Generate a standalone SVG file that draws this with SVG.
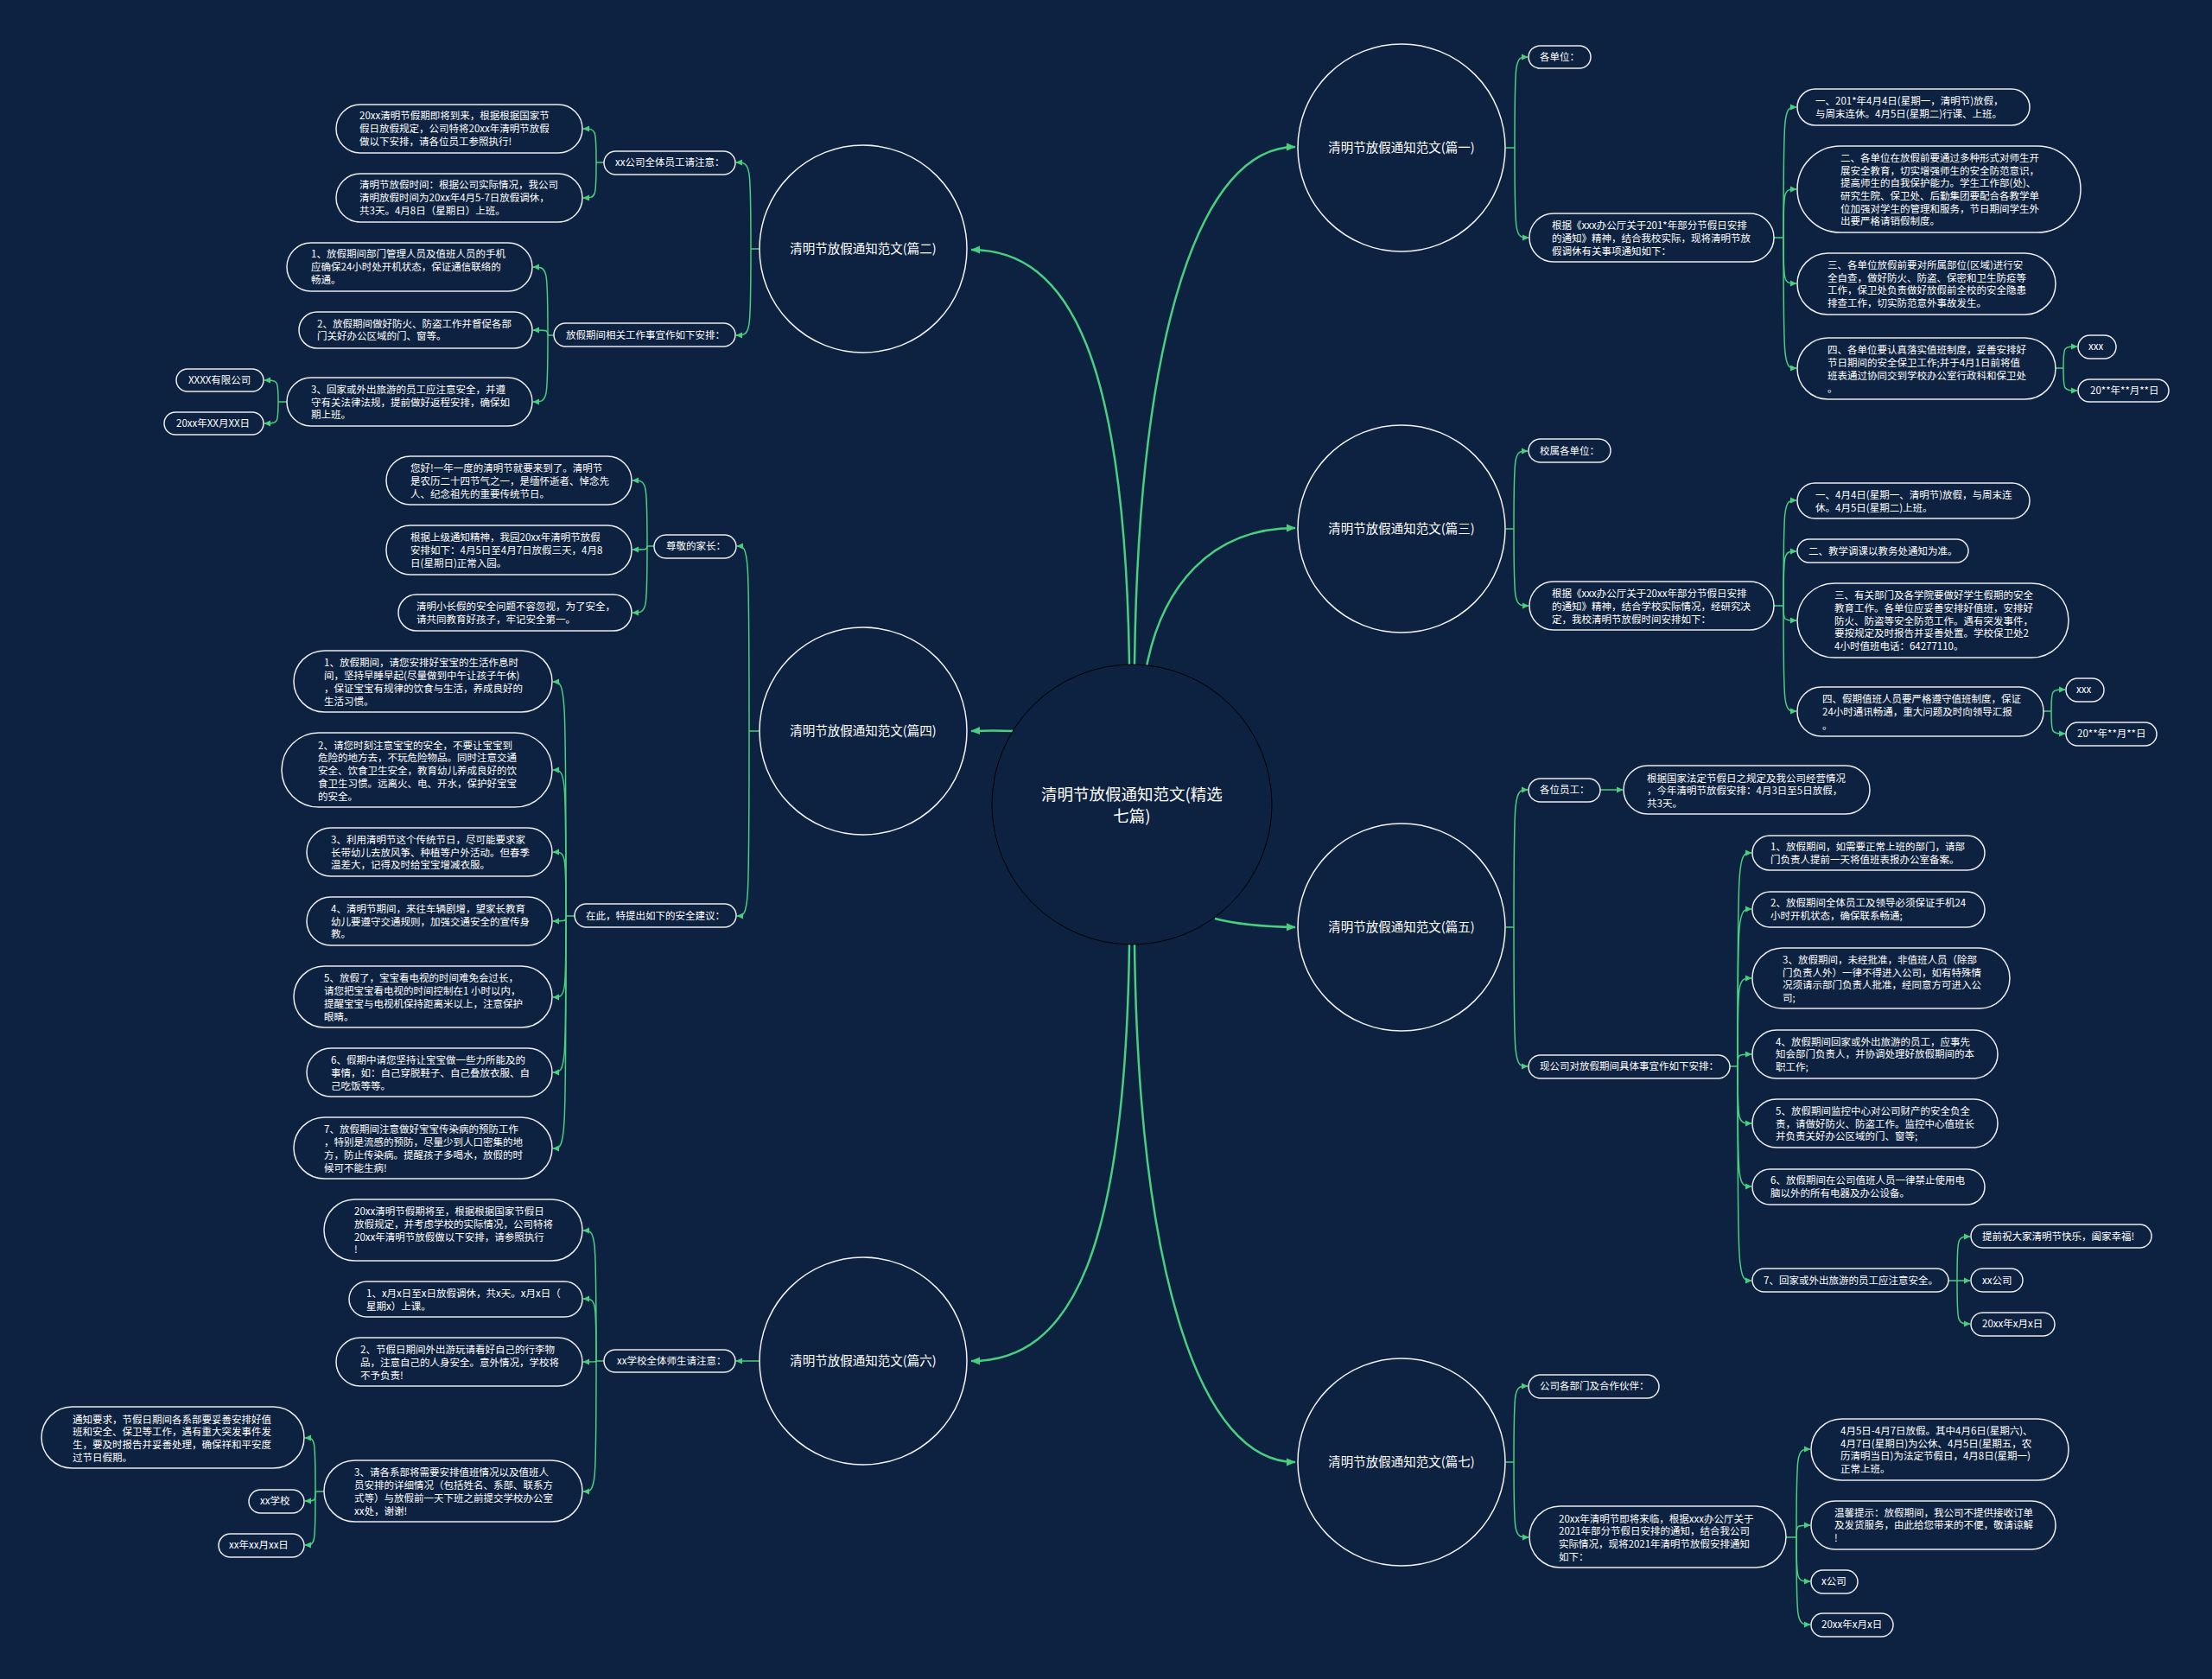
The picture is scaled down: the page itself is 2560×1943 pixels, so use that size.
<svg xmlns="http://www.w3.org/2000/svg" width="2560" height="1943" viewBox="0 0 2560 1943">
<style>
.bg{fill:#0d2240}
.n rect{fill:#0d2240;stroke:#ececec;stroke-width:1.5}
.n text{fill:#ffffff;font-family:"Noto Sans CJK SC","Noto Sans",sans-serif;font-size:11.5px}
.c circle{fill:#0d2240;stroke:#f2f2f2;stroke-width:1.5}
.c text{fill:#ffffff;font-family:"Noto Sans CJK SC","Noto Sans",sans-serif;font-size:14.5px;text-anchor:middle}
.root circle{fill:#0d2240;stroke:#000000;stroke-width:1}
.root text{fill:#ffffff;font-family:"Noto Sans CJK SC","Noto Sans",sans-serif;font-size:18.5px;text-anchor:middle}
.e path{fill:none;stroke:#48cf7f;stroke-width:1.5}
.e path.a{marker-end:url(#ar)}
.m path{fill:none;stroke:#48cf7f;stroke-width:2.5;marker-end:url(#ar2)}
</style>
<defs>
<marker id="ar" markerUnits="userSpaceOnUse" markerWidth="8" markerHeight="8" refX="7" refY="4" orient="auto"><path d="M0,0.5 L7.5,4 L0,7.5 z" fill="#48cf7f"/></marker>
<marker id="ar2" markerUnits="userSpaceOnUse" markerWidth="12" markerHeight="12" refX="10" refY="6" orient="auto"><path d="M0,1.5 L10.5,6 L0,10.5 z" fill="#48cf7f"/></marker>
</defs>
<rect class="bg" x="0" y="0" width="2560" height="1943"/>

<g class="m" id="main-connectors">
<path d="M1307 770 C1302 420 1240 289 1124 289"/>
<path d="M1313 769 C1318 380 1390 170 1499 170"/>
<path d="M1327 771 C1345 680 1400 611 1499 611"/>
<path d="M1173 846 Q1150 845 1124 846"/>
<path d="M1406 1063 Q1440 1072 1499 1073"/>
<path d="M1307 1093 C1302 1450 1240 1575 1124 1575"/>
<path d="M1313 1093 C1318 1480 1390 1692 1499 1692"/>
</g>

<g class="e" id="connectors">
<!-- 篇二 -->
<path d="M879 288 L869 288"/>
<path class="a" d="M869 288 C869 188 869 188 852 188"/>
<path class="a" d="M869 288 C869 388 869 388 852 388"/>
<path d="M699 188 L690 188"/>
<path class="a" d="M690 188 C690 149 690 149 675 149"/>
<path class="a" d="M690 188 C690 229 690 229 675 229"/>
<path d="M641 388 L634 388"/>
<path class="a" d="M634 388 C634 309 634 309 617 309"/>
<path class="a" d="M634 388 C634 382 634 382 617 382"/>
<path class="a" d="M634 388 C634 465 634 465 617 465"/>
<path d="M332 465 L322 465"/>
<path class="a" d="M322 465 C322 440 322 440 306 440"/>
<path class="a" d="M322 465 C322 490 322 490 306 490"/>
<!-- 篇四 -->
<path d="M879 846 L867 846"/>
<path class="a" d="M867 846 C867 632 867 632 853 632"/>
<path class="a" d="M867 846 C867 1060 867 1060 853 1060"/>
<path d="M757 632 L749 632"/>
<path class="a" d="M749 632 C749 556 749 556 732 556"/>
<path class="a" d="M749 632 C749 636 749 636 732 636"/>
<path class="a" d="M749 632 C749 709 749 709 732 709"/>
<path d="M665 1060 L655 1060"/>
<path class="a" d="M655 1060 C655 789 655 789 640 789"/>
<path class="a" d="M655 1060 C655 891 655 891 640 891"/>
<path class="a" d="M655 1060 C655 986 655 986 640 986"/>
<path class="a" d="M655 1060 C655 1066 655 1066 640 1066"/>
<path class="a" d="M655 1060 C655 1154 655 1154 640 1154"/>
<path class="a" d="M655 1060 C655 1241 655 1241 640 1241"/>
<path class="a" d="M655 1060 C655 1329 655 1329 640 1329"/>
<!-- 篇六 -->
<path class="a" d="M879 1575 L852 1575"/>
<path d="M699 1575 L690 1575"/>
<path class="a" d="M690 1575 C690 1424 690 1424 675 1424"/>
<path class="a" d="M690 1575 C690 1503 690 1503 675 1503"/>
<path class="a" d="M690 1575 C690 1576 690 1576 675 1576"/>
<path class="a" d="M690 1575 C690 1726 690 1726 675 1726"/>
<path d="M375 1726 L365 1726"/>
<path class="a" d="M365 1726 C365 1664 365 1664 353 1664"/>
<path class="a" d="M365 1726 C365 1737 365 1737 353 1737"/>
<path class="a" d="M365 1726 C365 1788 365 1788 353 1788"/>
<!-- 篇一 -->
<path d="M1743 171 L1753 171"/>
<path class="a" d="M1753 171 C1753 66 1753 66 1768 66"/>
<path class="a" d="M1753 171 C1753 275 1753 275 1769 275"/>
<path d="M2053 275 L2064 275"/>
<path class="a" d="M2064 275 C2064 124 2064 124 2079 124"/>
<path class="a" d="M2064 275 C2064 219 2064 219 2079 219"/>
<path class="a" d="M2064 275 C2064 328 2064 328 2079 328"/>
<path class="a" d="M2064 275 C2064 426 2064 426 2079 426"/>
<path d="M2379 426 L2388 426"/>
<path class="a" d="M2388 426 C2388 401 2388 401 2404 401"/>
<path class="a" d="M2388 426 C2388 452 2388 452 2404 452"/>
<!-- 篇三 -->
<path d="M1743 612 L1752 612"/>
<path class="a" d="M1752 612 C1752 522 1752 522 1768 522"/>
<path class="a" d="M1752 612 C1752 701 1752 701 1769 701"/>
<path d="M2053 701 L2064 701"/>
<path class="a" d="M2064 701 C2064 579 2064 579 2079 579"/>
<path class="a" d="M2064 701 C2064 638 2064 638 2079 638"/>
<path class="a" d="M2064 701 C2064 718 2064 718 2079 718"/>
<path class="a" d="M2064 701 C2064 823 2064 823 2079 823"/>
<path d="M2365 823 L2374 823"/>
<path class="a" d="M2374 823 C2374 798 2374 798 2390 798"/>
<path class="a" d="M2374 823 C2374 849 2374 849 2390 849"/>
<!-- 篇五 -->
<path d="M1743 1073 L1752 1073"/>
<path class="a" d="M1752 1073 C1752 914 1752 914 1768 914"/>
<path class="a" d="M1752 1073 C1752 1234 1752 1234 1768 1234"/>
<path class="a" d="M1852 914 L1878 914"/>
<path d="M2002 1234 L2011 1234"/>
<path class="a" d="M2011 1234 C2011 987 2011 987 2027 987"/>
<path class="a" d="M2011 1234 C2011 1052 2011 1052 2027 1052"/>
<path class="a" d="M2011 1234 C2011 1132 2011 1132 2027 1132"/>
<path class="a" d="M2011 1234 C2011 1220 2011 1220 2027 1220"/>
<path class="a" d="M2011 1234 C2011 1300 2011 1300 2027 1300"/>
<path class="a" d="M2011 1234 C2011 1373 2011 1373 2027 1373"/>
<path class="a" d="M2011 1234 C2011 1482 2011 1482 2027 1482"/>
<path d="M2255 1482 L2265 1482"/>
<path class="a" d="M2265 1482 C2265 1431 2265 1431 2280 1431"/>
<path class="a" d="M2265 1482 L2280 1482"/>
<path class="a" d="M2265 1482 C2265 1532 2265 1532 2280 1532"/>
<!-- 篇七 -->
<path d="M1743 1692 L1752 1692"/>
<path class="a" d="M1752 1692 C1752 1604 1752 1604 1768 1604"/>
<path class="a" d="M1752 1692 C1752 1779 1752 1779 1769 1779"/>
<path d="M2067 1779 L2079 1779"/>
<path class="a" d="M2079 1779 C2079 1677 2079 1677 2095 1677"/>
<path class="a" d="M2079 1779 C2079 1765 2079 1765 2095 1765"/>
<path class="a" d="M2079 1779 C2079 1830 2079 1830 2095 1830"/>
<path class="a" d="M2079 1779 C2079 1880 2079 1880 2095 1880"/>
</g>

<g class="root" id="root"><circle cx="1310" cy="931" r="162"/><text x="1310" y="926">清明节放假通知范文(精选</text><text x="1310" y="951">七篇)</text></g>

<g class="c" id="p1"><circle cx="1622" cy="171" r="120"/><text x="1622" y="176">清明节放假通知范文(篇一)</text></g>
<g class="c" id="p2"><circle cx="999" cy="288" r="120"/><text x="999" y="293">清明节放假通知范文(篇二)</text></g>
<g class="c" id="p3"><circle cx="1622" cy="612" r="120"/><text x="1622" y="617">清明节放假通知范文(篇三)</text></g>
<g class="c" id="p4"><circle cx="999" cy="846" r="120"/><text x="999" y="851">清明节放假通知范文(篇四)</text></g>
<g class="c" id="p5"><circle cx="1622" cy="1073" r="120"/><text x="1622" y="1078">清明节放假通知范文(篇五)</text></g>
<g class="c" id="p6"><circle cx="999" cy="1575" r="120"/><text x="999" y="1580">清明节放假通知范文(篇六)</text></g>
<g class="c" id="p7"><circle cx="1622" cy="1692" r="120"/><text x="1622" y="1697">清明节放假通知范文(篇七)</text></g>

<!-- 篇二 nodes -->
<g class="n" id="n2p1"><rect x="699" y="175" width="152" height="27" rx="13.5"/><text x="712" y="192">xx公司全体员工请注意：</text></g>
<g class="n" id="n2p2"><rect x="641" y="374" width="210" height="27" rx="13.5"/><text x="655" y="392">放假期间相关工作事宜作如下安排：</text></g>
<g class="n" id="n2a"><rect x="389" y="121" width="285" height="56" rx="28"/><text><tspan x="416" y="138">20xx清明节假期即将到来，根据根据国家节</tspan><tspan x="416" y="153">假日放假规定，公司特将20xx年清明节放假</tspan><tspan x="416" y="168">做以下安排，请各位员工参照执行!</tspan></text></g>
<g class="n" id="n2b"><rect x="389" y="201" width="285" height="56" rx="28"/><text><tspan x="416" y="218">清明节放假时间：根据公司实际情况，我公司</tspan><tspan x="416" y="233">清明放假时间为20xx年4月5-7日放假调休，</tspan><tspan x="416" y="248">共3天。4月8日（星期日）上班。</tspan></text></g>
<g class="n" id="n2c1"><rect x="332" y="281" width="284" height="56" rx="28"/><text><tspan x="360" y="298">1、放假期间部门管理人员及值班人员的手机</tspan><tspan x="360" y="313">应确保24小时处开机状态，保证通信联络的</tspan><tspan x="360" y="328">畅通。</tspan></text></g>
<g class="n" id="n2c2"><rect x="346" y="361" width="270" height="42" rx="21"/><text><tspan x="367" y="379">2、放假期间做好防火、防盗工作并督促各部</tspan><tspan x="367" y="393">门关好办公区域的门、窗等。</tspan></text></g>
<g class="n" id="n2c3"><rect x="332" y="437" width="284" height="56" rx="28"/><text><tspan x="360" y="455">3、回家或外出旅游的员工应注意安全，并遵</tspan><tspan x="360" y="470">守有关法律法规，提前做好返程安排，确保如</tspan><tspan x="360" y="484">期上班。</tspan></text></g>
<g class="n" id="n2d1"><rect x="204" y="427" width="101" height="26" rx="13"/><text x="218" y="444">XXXX有限公司</text></g>
<g class="n" id="n2d2"><rect x="190" y="477" width="115" height="26" rx="13"/><text x="204" y="494">20xx年XX月XX日</text></g>

<!-- 篇四 nodes -->
<g class="n" id="n4p1"><rect x="757" y="619" width="95" height="27" rx="13.5"/><text x="771" y="636">尊敬的家长：</text></g>
<g class="n" id="n4p2"><rect x="665" y="1046" width="187" height="27" rx="13.5"/><text x="678" y="1064">在此，特提出如下的安全建议：</text></g>
<g class="n" id="n4a"><rect x="447" y="528" width="284" height="56" rx="28"/><text><tspan x="475" y="546">您好!一年一度的清明节就要来到了。清明节</tspan><tspan x="475" y="561">是农历二十四节气之一，是缅怀逝者、悼念先</tspan><tspan x="475" y="576">人、纪念祖先的重要传统节日。</tspan></text></g>
<g class="n" id="n4b"><rect x="447" y="608" width="284" height="57" rx="28"/><text><tspan x="475" y="626">根据上级通知精神，我园20xx年清明节放假</tspan><tspan x="475" y="641">安排如下：4月5日至4月7日放假三天，4月8</tspan><tspan x="475" y="656">日(星期日)正常入园。</tspan></text></g>
<g class="n" id="n4c"><rect x="461" y="688" width="270" height="42" rx="21"/><text><tspan x="482" y="706">清明小长假的安全问题不容忽视，为了安全，</tspan><tspan x="482" y="721">请共同教育好孩子，牢记安全第一。</tspan></text></g>
<g class="n" id="n4c1"><rect x="340" y="753" width="299" height="71" rx="35.5"/><text><tspan x="375" y="771">1、放假期间，请您安排好宝宝的生活作息时</tspan><tspan x="375" y="786">间，坚持早睡早起(尽量做到中午让孩子午休)</tspan><tspan x="375" y="801">，保证宝宝有规律的饮食与生活，养成良好的</tspan><tspan x="375" y="816">生活习惯。</tspan></text></g>
<g class="n" id="n4c2"><rect x="326" y="848" width="313" height="86" rx="43"/><text><tspan x="368" y="867">2、请您时刻注意宝宝的安全，不要让宝宝到</tspan><tspan x="368" y="881">危险的地方去，不玩危险物品。同时注意交通</tspan><tspan x="368" y="896">安全、饮食卫生安全，教育幼儿养成良好的饮</tspan><tspan x="368" y="911">食卫生习惯。远离火、电、开水，保护好宝宝</tspan><tspan x="368" y="926">的安全。</tspan></text></g>
<g class="n" id="n4c3"><rect x="355" y="958" width="284" height="56" rx="28"/><text><tspan x="383" y="976">3、利用清明节这个传统节日，尽可能要求家</tspan><tspan x="383" y="991">长带幼儿去放风筝、种植等户外活动。但春季</tspan><tspan x="383" y="1005">温差大，记得及时给宝宝增减衣服。</tspan></text></g>
<g class="n" id="n4c4"><rect x="355" y="1038" width="284" height="56" rx="28"/><text><tspan x="383" y="1056">4、清明节期间，来往车辆剧增，望家长教育</tspan><tspan x="383" y="1071">幼儿要遵守交通规则，加强交通安全的宣传身</tspan><tspan x="383" y="1085">教。</tspan></text></g>
<g class="n" id="n4c5"><rect x="340" y="1118" width="299" height="71" rx="35.5"/><text><tspan x="375" y="1136">5、放假了，宝宝看电视的时间难免会过长，</tspan><tspan x="375" y="1151">请您把宝宝看电视的时间控制在1 小时以内，</tspan><tspan x="375" y="1166">提醒宝宝与电视机保持距离米以上，注意保护</tspan><tspan x="375" y="1181">眼睛。</tspan></text></g>
<g class="n" id="n4c6"><rect x="355" y="1213" width="284" height="56" rx="28"/><text><tspan x="383" y="1231">6、假期中请您坚持让宝宝做一些力所能及的</tspan><tspan x="383" y="1246">事情，如：自己穿脱鞋子、自己叠放衣服、自</tspan><tspan x="383" y="1261">己吃饭等等。</tspan></text></g>
<g class="n" id="n4c7"><rect x="340" y="1293" width="299" height="71" rx="35.5"/><text><tspan x="375" y="1311">7、放假期间注意做好宝宝传染病的预防工作</tspan><tspan x="375" y="1326">，特别是流感的预防，尽量少到人口密集的地</tspan><tspan x="375" y="1341">方，防止传染病。提醒孩子多喝水，放假的时</tspan><tspan x="375" y="1356">候可不能生病!</tspan></text></g>

<!-- 篇六 nodes -->
<g class="n" id="n6p"><rect x="699" y="1562" width="152" height="26" rx="13"/><text x="714" y="1579">xx学校全体师生请注意：</text></g>
<g class="n" id="n6a"><rect x="375" y="1388" width="299" height="71" rx="35.5"/><text><tspan x="410" y="1406">20xx清明节假期将至，根据根据国家节假日</tspan><tspan x="410" y="1421">放假规定，并考虑学校的实际情况，公司特将</tspan><tspan x="410" y="1436">20xx年清明节放假做以下安排，请参照执行</tspan><tspan x="410" y="1450">!</tspan></text></g>
<g class="n" id="n6b"><rect x="404" y="1483" width="270" height="41" rx="20.5"/><text><tspan x="424" y="1501">1、x月x日至x日放假调休，共x天。x月x日（</tspan><tspan x="424" y="1516">星期x）上课。</tspan></text></g>
<g class="n" id="n6c"><rect x="389" y="1548" width="285" height="56" rx="28"/><text><tspan x="417" y="1566">2、节假日期间外出游玩请看好自己的行李物</tspan><tspan x="417" y="1581">品，注意自己的人身安全。意外情况，学校将</tspan><tspan x="417" y="1596">不予负责!</tspan></text></g>
<g class="n" id="n6d"><rect x="375" y="1690" width="299" height="71" rx="35.5"/><text><tspan x="410" y="1708">3、请各系部将需要安排值班情况以及值班人</tspan><tspan x="410" y="1723">员安排的详细情况（包括姓名、系部、联系方</tspan><tspan x="410" y="1738">式等）与放假前一天下班之前提交学校办公室</tspan><tspan x="410" y="1753">xx处，谢谢!</tspan></text></g>
<g class="n" id="n6e1"><rect x="48" y="1628" width="304" height="71" rx="35.5"/><text><tspan x="84" y="1647">通知要求，节假日期间各系部要妥善安排好值</tspan><tspan x="84" y="1661">班和安全、保卫等工作，遇有重大突发事件发</tspan><tspan x="84" y="1676">生，要及时报告并妥善处理，确保祥和平安度</tspan><tspan x="84" y="1691">过节日假期。</tspan></text></g>
<g class="n" id="n6e2"><rect x="288" y="1724" width="64" height="27" rx="13.5"/><text x="301" y="1741">xx学校</text></g>
<g class="n" id="n6e3"><rect x="253" y="1775" width="99" height="27" rx="13.5"/><text x="265" y="1792">xx年xx月xx日</text></g>

<!-- 篇一 nodes -->
<g class="n" id="n1a"><rect x="1769" y="53" width="72" height="26" rx="13"/><text x="1782" y="70">各单位：</text></g>
<g class="n" id="n1b"><rect x="1770" y="247" width="283" height="56" rx="28"/><text><tspan x="1796" y="265">根据《xxx办公厅关于201*年部分节假日安排</tspan><tspan x="1796" y="280">的通知》精神，结合我校实际，现将清明节放</tspan><tspan x="1796" y="295">假调休有关事项通知如下：</tspan></text></g>
<g class="n" id="n1c1"><rect x="2080" y="103" width="269" height="42" rx="21"/><text><tspan x="2101" y="121">一、201*年4月4日(星期一，清明节)放假，</tspan><tspan x="2101" y="136">与周末连休。4月5日(星期二)行课、上班。</tspan></text></g>
<g class="n" id="n1c2"><rect x="2080" y="169" width="328" height="100" rx="50"/><text><tspan x="2130" y="187">二、各单位在放假前要通过多种形式对师生开</tspan><tspan x="2130" y="202">展安全教育，切实增强师生的安全防范意识，</tspan><tspan x="2130" y="216">提高师生的自我保护能力。学生工作部(处)、</tspan><tspan x="2130" y="231">研究生院、保卫处、后勤集团要配合各教学单</tspan><tspan x="2130" y="246">位加强对学生的管理和服务，节日期间学生外</tspan><tspan x="2130" y="260">出要严格请销假制度。</tspan></text></g>
<g class="n" id="n1c3"><rect x="2080" y="293" width="299" height="71" rx="35.5"/><text><tspan x="2115" y="311">三、各单位放假前要对所属部位(区域)进行安</tspan><tspan x="2115" y="326">全自查，做好防火、防盗、保密和卫生防疫等</tspan><tspan x="2115" y="340">工作，保卫处负责做好放假前全校的安全隐患</tspan><tspan x="2115" y="355">排查工作，切实防范意外事故发生。</tspan></text></g>
<g class="n" id="n1c4"><rect x="2080" y="391" width="299" height="71" rx="35.5"/><text><tspan x="2115" y="409">四、各单位要认真落实值班制度，妥善安排好</tspan><tspan x="2115" y="424">节日期间的安全保卫工作;并于4月1日前将值</tspan><tspan x="2115" y="439">班表通过协同交到学校办公室行政科和保卫处</tspan><tspan x="2115" y="454">。</tspan></text></g>
<g class="n" id="n1d1"><rect x="2405" y="388" width="44" height="27" rx="13.5"/><text x="2417" y="405">xxx</text></g>
<g class="n" id="n1d2"><rect x="2405" y="439" width="105" height="26" rx="13"/><text x="2419" y="456">20**年**月**日</text></g>

<!-- 篇三 nodes -->
<g class="n" id="n3a"><rect x="1769" y="508" width="95" height="27" rx="13.5"/><text x="1782" y="526">校属各单位：</text></g>
<g class="n" id="n3b"><rect x="1770" y="673" width="283" height="56" rx="28"/><text><tspan x="1796" y="691">根据《xxx办公厅关于20xx年部分节假日安排</tspan><tspan x="1796" y="706">的通知》精神，结合学校实际情况，经研究决</tspan><tspan x="1796" y="721">定，我校清明节放假时间安排如下：</tspan></text></g>
<g class="n" id="n3c1"><rect x="2080" y="559" width="269" height="41" rx="20.5"/><text><tspan x="2101" y="577">一、4月4日(星期一、清明节)放假，与周末连</tspan><tspan x="2101" y="592">休。4月5日(星期二)上班。</tspan></text></g>
<g class="n" id="n3c2"><rect x="2080" y="624" width="198" height="27" rx="13.5"/><text x="2093" y="642">二、教学调课以教务处通知为准。</text></g>
<g class="n" id="n3c3"><rect x="2080" y="675" width="314" height="86" rx="43"/><text><tspan x="2123" y="693">三、有关部门及各学院要做好学生假期的安全</tspan><tspan x="2123" y="708">教育工作。各单位应妥善安排好值班，安排好</tspan><tspan x="2123" y="723">防火、防盗等安全防范工作。遇有突发事件，</tspan><tspan x="2123" y="737">要按规定及时报告并妥善处置。学校保卫处2</tspan><tspan x="2123" y="752">4小时值班电话：64277110。</tspan></text></g>
<g class="n" id="n3c4"><rect x="2080" y="795" width="285" height="57" rx="28"/><text><tspan x="2109" y="813">四、假期值班人员要严格遵守值班制度，保证</tspan><tspan x="2109" y="828">24小时通讯畅通，重大问题及时向领导汇报</tspan><tspan x="2109" y="844">。</tspan></text></g>
<g class="n" id="n3d1"><rect x="2391" y="785" width="44" height="27" rx="13.5"/><text x="2403" y="802">xxx</text></g>
<g class="n" id="n3d2"><rect x="2391" y="836" width="105" height="27" rx="13.5"/><text x="2404" y="853">20**年**月**日</text></g>

<!-- 篇五 nodes -->
<g class="n" id="n5a"><rect x="1769" y="901" width="83" height="27" rx="13.5"/><text x="1782" y="918">各位员工：</text></g>
<g class="n" id="n5a1"><rect x="1879" y="886" width="285" height="56" rx="28"/><text><tspan x="1906" y="905">根据国家法定节假日之规定及我公司经营情况</tspan><tspan x="1906" y="919">，今年清明节放假安排：4月3日至5日放假，</tspan><tspan x="1906" y="934">共3天。</tspan></text></g>
<g class="n" id="n5b"><rect x="1769" y="1221" width="233" height="27" rx="13.5"/><text x="1782" y="1238">现公司对放假期间具体事宜作如下安排：</text></g>
<g class="n" id="n5c1"><rect x="2028" y="967" width="269" height="40" rx="20"/><text><tspan x="2049" y="984">1、放假期间，如需要正常上班的部门，请部</tspan><tspan x="2049" y="999">门负责人提前一天将值班表报办公室备案。</tspan></text></g>
<g class="n" id="n5c2"><rect x="2028" y="1032" width="269" height="41" rx="20.5"/><text><tspan x="2049" y="1049">2、放假期间全体员工及领导必须保证手机24</tspan><tspan x="2049" y="1064">小时开机状态，确保联系畅通;</tspan></text></g>
<g class="n" id="n5c3"><rect x="2028" y="1097" width="298" height="70" rx="35"/><text><tspan x="2063" y="1115">3、放假期间，未经批准，非值班人员（除部</tspan><tspan x="2063" y="1130">门负责人外）一律不得进入公司，如有特殊情</tspan><tspan x="2063" y="1144">况须请示部门负责人批准，经同意方可进入公</tspan><tspan x="2063" y="1159">司;</tspan></text></g>
<g class="n" id="n5c4"><rect x="2028" y="1192" width="284" height="56" rx="28"/><text><tspan x="2055" y="1210">4、放假期间回家或外出旅游的员工，应事先</tspan><tspan x="2055" y="1224">知会部门负责人，并协调处理好放假期间的本</tspan><tspan x="2055" y="1239">职工作;</tspan></text></g>
<g class="n" id="n5c5"><rect x="2028" y="1272" width="284" height="56" rx="28"/><text><tspan x="2055" y="1290">5、放假期间监控中心对公司财产的安全负全</tspan><tspan x="2055" y="1305">责，请做好防火、防盗工作。监控中心值班长</tspan><tspan x="2055" y="1319">并负责关好办公区域的门、窗等;</tspan></text></g>
<g class="n" id="n5c6"><rect x="2028" y="1353" width="269" height="41" rx="20.5"/><text><tspan x="2049" y="1370">6、放假期间在公司值班人员一律禁止使用电</tspan><tspan x="2049" y="1385">脑以外的所有电器及办公设备。</tspan></text></g>
<g class="n" id="n5c7"><rect x="2028" y="1468" width="227" height="27" rx="13.5"/><text x="2041" y="1486">7、回家或外出旅游的员工应注意安全。</text></g>
<g class="n" id="n5d1"><rect x="2281" y="1417" width="209" height="27" rx="13.5"/><text x="2294" y="1435">提前祝大家清明节快乐，阖家幸福!</text></g>
<g class="n" id="n5d2"><rect x="2281" y="1468" width="60" height="27" rx="13.5"/><text x="2294" y="1486">xx公司</text></g>
<g class="n" id="n5d3"><rect x="2281" y="1519" width="97" height="27" rx="13.5"/><text x="2294" y="1536">20xx年x月x日</text></g>

<!-- 篇七 nodes -->
<g class="n" id="n7a"><rect x="1769" y="1591" width="151" height="27" rx="13.5"/><text x="1782" y="1608">公司各部门及合作伙伴：</text></g>
<g class="n" id="n7b"><rect x="1770" y="1743" width="297" height="71" rx="35.5"/><text><tspan x="1804" y="1762">20xx年清明节即将来临，根据xxx办公厅关于</tspan><tspan x="1804" y="1776">2021年部分节假日安排的通知，结合我公司</tspan><tspan x="1804" y="1791">实际情况，现将2021年清明节放假安排通知</tspan><tspan x="1804" y="1806">如下：</tspan></text></g>
<g class="n" id="n7c1"><rect x="2096" y="1642" width="298" height="71" rx="35.5"/><text><tspan x="2130" y="1660">4月5日-4月7日放假。其中4月6日(星期六)、</tspan><tspan x="2130" y="1675">4月7日(星期日)为公休、4月5日(星期五，农</tspan><tspan x="2130" y="1689">历清明当日)为法定节假日，4月8日(星期一)</tspan><tspan x="2130" y="1704">正常上班。</tspan></text></g>
<g class="n" id="n7c2"><rect x="2096" y="1737" width="283" height="56" rx="28"/><text><tspan x="2123" y="1755">温馨提示：放假期间，我公司不提供接收订单</tspan><tspan x="2123" y="1769">及发货服务，由此给您带来的不便，敬请谅解</tspan><tspan x="2123" y="1784">!</tspan></text></g>
<g class="n" id="n7c3"><rect x="2096" y="1817" width="54" height="27" rx="13.5"/><text x="2108" y="1834">x公司</text></g>
<g class="n" id="n7c4"><rect x="2096" y="1867" width="95" height="27" rx="13.5"/><text x="2108" y="1884">20xx年x月x日</text></g>
</svg>
